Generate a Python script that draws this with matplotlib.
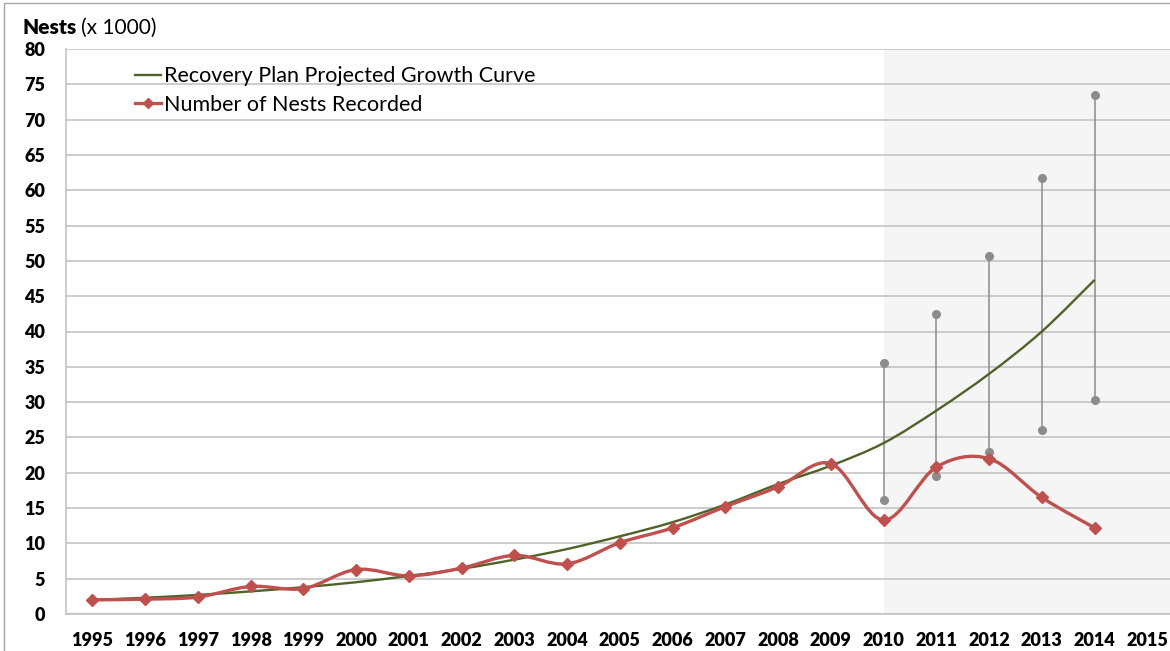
import matplotlib.pyplot as plt
import numpy as np
from matplotlib import rcParams
from matplotlib.lines import Line2D
from matplotlib.path import Path
from matplotlib.patches import PathPatch, Rectangle

# Chart data (nests x 1000)
years = [str(y) for y in range(1995, 2016)]
nests_recorded = [2.0, 2.1, 2.4, 3.9, 3.6, 6.3, 5.4, 6.5, 8.3, 7.1,
                  10.1, 12.2, 15.2, 18.0, 21.3, 13.3, 20.8, 22.0, 16.5, 12.2]
projected_curve = [2.0, 2.3, 2.7, 3.2, 3.8, 4.5, 5.4, 6.4, 7.7, 9.2,
                   11.0, 13.0, 15.5, 18.4, 21.0, 24.2, 28.8, 34.0, 40.0, 47.3]
range_years = ["2010", "2011", "2012", "2013", "2014"]
range_low = [16.2, 19.6, 22.9, 26.0, 30.3]
range_high = [35.5, 42.5, 50.7, 61.8, 73.5]
y_ticks = list(range(0, 85, 5))

GREEN = "#4F6228"
RED = "#C0504D"
GRAY = "#8C8C8C"
GRID = "#BFBFBF"


def smooth_path(xs, ys):
    """Excel-style smoothed line: cubic Bezier segments through every point."""
    pts = np.column_stack([xs, ys]).astype(float)
    verts = [pts[0]]
    codes = [Path.MOVETO]
    n = len(pts)
    for i in range(n - 1):
        p0 = pts[i - 1] if i > 0 else pts[i]
        p1, p2 = pts[i], pts[i + 1]
        p3 = pts[i + 2] if i + 2 < n else pts[i + 1]
        c1 = p1 + (p2 - p0) / 6.0
        c2 = p2 - (p3 - p1) / 6.0
        verts += [c1, c2, p2]
        codes += [Path.CURVE4] * 3
    return Path(verts, codes)


rcParams.update({
    "font.family": ["Lato", "DejaVu Sans"],
    "font.size": 13,
    "text.color": "black",
})

fig = plt.figure(figsize=(11.7, 6.51), dpi=100)
ax = fig.add_axes([66 / 1170, 37 / 651, 1 - 66 / 1170, 565 / 651])

x = np.arange(len(nests_recorded))
idx = {y: i for i, y in enumerate(years)}

# Shaded projection period
ax.axvspan(idx["2010"], len(years), color="#F5F5F5", zorder=0, lw=0)

# Gridlines
for t in y_ticks:
    ax.axhline(t, color=GRID, lw=1.1, zorder=1)

# Gray range bars
rx = [idx[y] for y in range_years]
ax.vlines(rx, range_low, range_high, color=GRAY, lw=1.1, zorder=2)
ax.plot(rx, range_low, "o", color=GRAY, ms=5.5, zorder=2)
ax.plot(rx, range_high, "o", color=GRAY, ms=5.5, zorder=2)

# Projected growth curve
ax.add_patch(PathPatch(smooth_path(x, projected_curve), fill=False,
                       edgecolor=GREEN, lw=1.7, zorder=3))

# Recorded nests (smoothed line + diamond markers)
ax.add_patch(PathPatch(smooth_path(x, nests_recorded), fill=False,
                       edgecolor=RED, lw=2.4, zorder=4, capstyle="round"))
ax.plot(x, nests_recorded, "D", color=RED, ms=6, zorder=5)

ax.set_xlim(-0.5, 20.43)
ax.set_ylim(0, 80)
ax.set_xticks(range(len(years)))
ax.set_xticklabels(years, fontweight="heavy", fontsize=13)
ax.set_yticks(y_ticks)
ax.set_yticklabels([str(t) for t in y_ticks], fontweight="heavy", fontsize=13)
ax.tick_params(axis="x", length=0, pad=13)
ax.tick_params(axis="y", length=0, pad=15)

for side in ["top", "right"]:
    ax.spines[side].set_visible(False)
for side in ["left", "bottom"]:
    ax.spines[side].set_color(GRID)
    ax.spines[side].set_linewidth(1.1)

# Legend
handles = [
    Line2D([], [], color=GREEN, lw=1.7),
    Line2D([], [], color=RED, lw=2.4, marker="D", ms=5.5),
]
ax.legend(handles, ["Recovery Plan Projected Growth Curve", "Number of Nests Recorded"],
          loc="upper left", bbox_to_anchor=(0.055, 0.985), frameon=False,
          fontsize=15.5, handlelength=1.2, handletextpad=0.15, labelspacing=0.4,
          borderaxespad=0)

# Axis title: bold "Nests" followed by regular "(x 1000)"
t = fig.text(22 / 1170, 1 - 34 / 651, "Nests", fontsize=15, fontweight="heavy", va="baseline")
fig.canvas.draw()
bb = t.get_window_extent()
fig.text((bb.x1 + 5) / 1170, 1 - 34 / 651, "(x 1000)", fontsize=15, va="baseline")

# Thin figure border
fig.add_artist(Rectangle((4 / 1170, -0.1), 1.2, 1 - 3 / 651 + 0.1, transform=fig.transFigure,
                         fill=False, edgecolor="#A6A6A6", lw=1))

fig.savefig("out.png", dpi=100)
